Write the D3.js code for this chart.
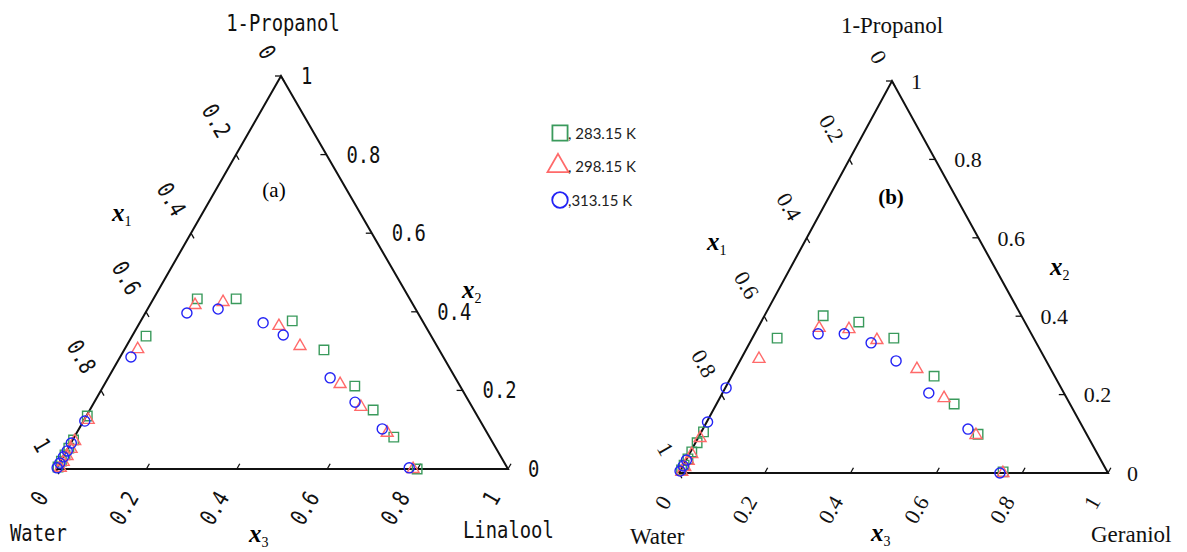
<!DOCTYPE html>
<html>
<head>
<meta charset="utf-8">
<script src="https://cdn.jsdelivr.net/npm/d3@7"></script>
<style>
body { margin: 0; background: #fff; }
</style>
</head>
<body>
<svg id="chart" width="1187" height="552"></svg>
<script>
// tick values and labels (same for all three edges)
var ticks = [0, 0.2, 0.4, 0.6, 0.8, 1];
var tickText = ["0", "0.2", "0.4", "0.6", "0.8", "1"];
var temps = ["283.15 K", "298.15 K", "313.15 K"];
var legendText = [", 283.15 K", ", 298.15 K", ",313.15 K"];

// (a) water + 1-propanol + linalool : propanol (x2) and linalool (x3) fractions
var aProp283 = [0.005, 0.020, 0.036, 0.053, 0.074, 0.135, 0.338, 0.433, 0.433, 0.377, 0.303, 0.211, 0.150, 0.081, 0.000];
var aOil283  = [0.002, 0.002, 0.002, 0.002, 0.002, 0.002, 0.031, 0.097, 0.183, 0.335, 0.442, 0.556, 0.627, 0.707, 0.799];
var aProp298 = [0.003, 0.018, 0.033, 0.051, 0.071, 0.125, 0.305, 0.417, 0.425, 0.364, 0.313, 0.216, 0.158, 0.092, 0.000];
var aOil298  = [0.008, 0.007, 0.008, 0.008, 0.006, 0.009, 0.029, 0.100, 0.158, 0.312, 0.384, 0.521, 0.596, 0.687, 0.790];
var aProp313 = [0.003, 0.015, 0.031, 0.046, 0.066, 0.122, 0.285, 0.397, 0.407, 0.372, 0.341, 0.232, 0.170, 0.102, 0.003];
var aOil313  = [0.001, 0.001, 0.001, 0.002, 0.001, 0.003, 0.024, 0.092, 0.156, 0.273, 0.333, 0.491, 0.577, 0.671, 0.780];

// (b) water + 1-propanol + geraniol
var bProp283 = [0.008, 0.020, 0.036, 0.054, 0.077, 0.105, 0.344, 0.401, 0.385, 0.344, 0.247, 0.176, 0.099, 0.003];
var bOil283  = [0.002, 0.002, 0.003, 0.003, 0.004, 0.005, 0.058, 0.137, 0.228, 0.330, 0.472, 0.554, 0.648, 0.754];
var bProp298 = [0.003, 0.015, 0.031, 0.048, 0.089, 0.291, 0.370, 0.367, 0.339, 0.265, 0.191, 0.097, 0.000];
var bOil298  = [0.005, 0.006, 0.006, 0.006, 0.005, 0.042, 0.143, 0.214, 0.293, 0.423, 0.523, 0.644, 0.755];
var bProp313 = [0.005, 0.018, 0.033, 0.130, 0.217, 0.355, 0.355, 0.332, 0.286, 0.204, 0.112, 0.000];
var bOil313  = [0.000, 0.001, 0.001, 0.002, 0.002, 0.148, 0.209, 0.283, 0.364, 0.481, 0.618, 0.748];

var colors = ["#3a9a5c", "#ff6a6a", "#2323f5"];
var shapes = [d3.symbolSquare, d3.symbolTriangle, d3.symbolCircle];
var sizes = [90, 62, 80];

var svg = d3.select("#chart");

function norm(v) {
    var l = Math.sqrt(v[0] * v[0] + v[1] * v[1]);
    return [v[0] / l, v[1] / l];
}

function xlabel(g, x, y, sub) {
    var t = g.append("text").attr("x", x).attr("y", y)
        .style("font-family", "Liberation Serif").style("font-size", "25px");
    t.append("tspan").text("x").style("font-style", "italic").style("font-weight", "bold");
    t.append("tspan").text(sub).attr("dy", 5).style("font-size", "14px");
}

function drawPanel(cfg) {
    var A = cfg.A, B = cfg.B, C = cfg.C;
    var g = svg.append("g");

    // scales: oil fraction along the base, propanol fraction up the height
    var hx = d3.scaleLinear().domain([0, 1]).range([A[0], B[0]]);
    var hy = d3.scaleLinear().domain([0, 1]).range([A[1], C[1]]);
    var shear = d3.scaleLinear().domain([0, 1]).range([0, C[0] - A[0]]);
    function pt(p, l) { return [hx(l) + shear(p), hy(p)]; }

    g.append("path")
        .attr("d", d3.line()([pt(0, 0), pt(0, 1), pt(1, 0), pt(0, 0)]))
        .attr("fill", "none").attr("stroke", "#111").attr("stroke-width", 2)
        .attr("stroke-linejoin", "miter");

    var inLeft = norm([B[0] - C[0], B[1] - C[1]]);
    var outLeft = [-inLeft[0], -inLeft[1]];
    var outBase = norm([A[0] - C[0], A[1] - C[1]]);
    var tl = 6;

    function tickLine(p0, d) {
        g.append("line").attr("x1", p0[0]).attr("y1", p0[1])
            .attr("x2", p0[0] + d[0] * tl).attr("y2", p0[1] + d[1] * tl)
            .attr("stroke", "#111").attr("stroke-width", 1.3);
    }
    function label(pos, rot, anchor, txt, size, font, sx) {
        g.append("text")
            .attr("transform", "translate(" + pos[0] + "," + pos[1] + ") rotate(" + rot + ") scale(" + sx + ",1)")
            .attr("text-anchor", anchor).attr("dy", "0.35em")
            .style("font-family", font).style("font-size", size + "px")
            .attr("fill", "#111").text(txt);
    }

    ticks.forEach(function(v, i) {
        // left edge: water fraction x1, 0 at the top
        var pl = pt(1 - v, 0);
        tickLine(pl, inLeft);
        label([pl[0] + outLeft[0] * cfg.tOff, pl[1] + outLeft[1] * cfg.tOff], 60, "end",
              tickText[i], cfg.tickSize, cfg.tickFont, cfg.sx);
        // right edge: propanol fraction x2
        var pr = pt(v, 1 - v);
        tickLine(pr, [-1, 0]);
        label([pr[0] + cfg.rOff, pr[1]], 0, "start", tickText[i], cfg.tickSize, cfg.tickFont, cfg.sx);
        // base: oil fraction x3
        var pb = pt(0, v);
        tickLine(pb, [-outBase[0], -outBase[1]]);
        label([pb[0] + outBase[0] * cfg.bOff, pb[1] + outBase[1] * cfg.bOff], -60, "end",
              tickText[i], cfg.tickSize, cfg.tickFont, cfg.sx);
    });

    // component names
    function name(x, y, txt, anchor) {
        g.append("text")
            .attr("transform", "translate(" + x + "," + y + ") scale(" + cfg.sx + ",1)")
            .attr("text-anchor", anchor)
            .style("font-family", cfg.nameFont).style("font-size", cfg.nameSize + "px")
            .attr("fill", "#111").text(txt);
    }
    name(cfg.top[0], cfg.top[1], "1-Propanol", "middle");
    name(cfg.water[0], cfg.water[1], "Water", "start");
    name(cfg.oil[0], cfg.oil[1], cfg.oilName, "start");

    g.append("text").attr("x", cfg.tag[0]).attr("y", cfg.tag[1]).attr("text-anchor", "middle")
        .style("font-family", "Liberation Serif").style("font-size", "21px")
        .style("font-weight", cfg.tagBold ? "bold" : "normal").text(cfg.tagText);

    xlabel(g, cfg.x1[0], cfg.x1[1], "1");
    xlabel(g, cfg.x2[0], cfg.x2[1], "2");
    xlabel(g, cfg.x3[0], cfg.x3[1], "3");

    // data
    cfg.series.forEach(function(s, k) {
        var pts = s[0].map(function(p, i) { return pt(p, s[1][i]); });
        g.selectAll(null).data(pts).enter().append("path")
            .attr("transform", function(d) { return "translate(" + d[0] + "," + d[1] + ")"; })
            .attr("d", d3.symbol().type(shapes[k]).size(sizes[k]))
            .attr("fill", "none").attr("stroke", colors[k]).attr("stroke-width", 1.4);
    });
}

drawPanel({
    A: [56, 469], B: [508, 469], C: [281, 76],
    tickFont: "DejaVu Sans Mono", tickSize: 23, sx: 0.82,
    nameFont: "DejaVu Sans Mono", nameSize: 23,
    tOff: 22, rOff: 20, bOff: 28,
    top: [283, 31], water: [10, 541], oil: [463, 538], oilName: "Linalool",
    tag: [274, 197], tagText: "(a)", tagBold: false,
    x1: [112, 221], x2: [462, 298], x3: [249, 542],
    series: [[aProp283, aOil283], [aProp298, aOil298], [aProp313, aOil313]]
});

drawPanel({
    A: [679, 473], B: [1108, 473], C: [892, 81],
    tickFont: "Liberation Serif", tickSize: 22, sx: 1,
    nameFont: "Liberation Serif", nameSize: 23,
    tOff: 22, rOff: 19, bOff: 28,
    top: [892, 33], water: [630, 544], oil: [1091, 542], oilName: "Geraniol",
    tag: [891, 204], tagText: "(b)", tagBold: true,
    x1: [707, 250], x2: [1050, 275], x3: [871, 541],
    series: [[bProp283, bOil283], [bProp298, bOil298], [bProp313, bOil313]]
});

// legend
var leg = svg.append("g");
var legY = [133, 166, 200];
temps.forEach(function(t, k) {
    leg.append("path")
        .attr("transform", "translate(" + (k == 1 ? 558 : 560) + "," + legY[k] + ")")
        .attr("d", d3.symbol().type(shapes[k]).size(k == 0 ? 230 : 190))
        .attr("fill", "none").attr("stroke", colors[k]).attr("stroke-width", 1.8);
    leg.append("text").attr("x", 568).attr("y", legY[k] + 6)
        .style("font-family", "Lato").style("font-size", "15px").attr("fill", "#222")
        .text(legendText[k]);
});
</script>
</body>
</html>
